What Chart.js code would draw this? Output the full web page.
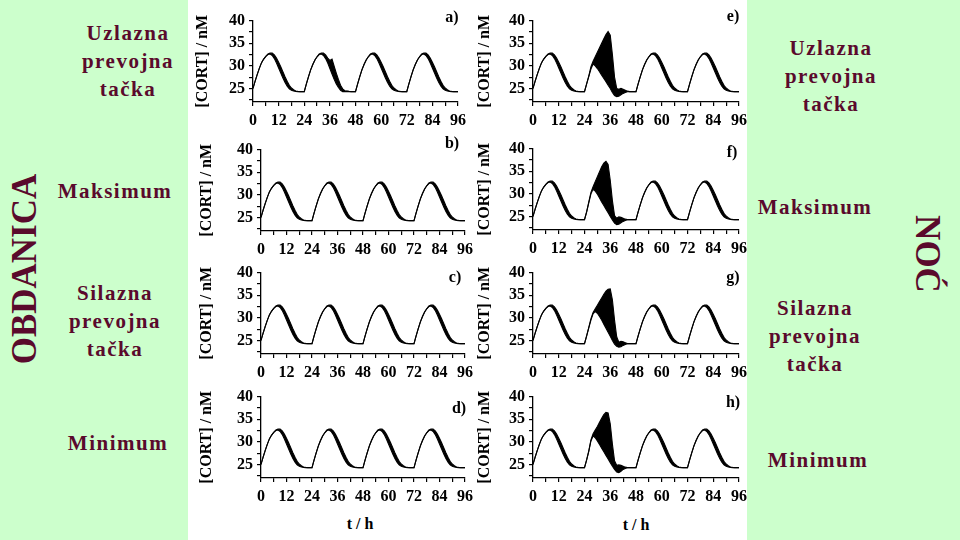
<!DOCTYPE html>
<html>
<head>
<meta charset="utf-8">
<script src="https://cdn.jsdelivr.net/npm/chart.js@4.4.1/dist/chart.umd.min.js"></script>
<style>
html, body { margin: 0; padding: 0; }
body {
    width: 960px; height: 540px; position: relative; overflow: hidden;
    background: #ccffcc;
    font-family: "Liberation Serif", "Times New Roman", serif;
}
#sheet { position: absolute; left: 188px; top: 0; width: 559px; height: 540px; background: #fff; }
canvas { position: absolute; }
.lbl {
    position: absolute; transform: translate(-50%, -50%);
    color: #5a0a2c; font-weight: bold; font-size: 21px; letter-spacing: 1.5px;
    line-height: 28px; text-align: center; white-space: nowrap;
}
.side {
    position: absolute; color: #5a0a2c; font-weight: bold; font-size: 35px;
    line-height: 40px; white-space: nowrap;
}
.tag {
    position: absolute; transform: translate(-50%, -50%);
    font-weight: bold; font-size: 16px; color: #000; white-space: nowrap;
}
</style>
</head>
<body>
<div id="sheet"></div>

<div class="lbl" style="left:128px;top:61px">Uzlazna<br>prevojna<br>tačka</div>
<div class="lbl" style="left:115px;top:191px">Maksimum</div>
<div class="lbl" style="left:115px;top:321px">Silazna<br>prevojna<br>tačka</div>
<div class="lbl" style="left:118px;top:443px">Minimum</div>

<div class="lbl" style="left:831px;top:76px">Uzlazna<br>prevojna<br>tačka</div>
<div class="lbl" style="left:815px;top:207px">Maksimum</div>
<div class="lbl" style="left:815px;top:336px">Silazna<br>prevojna<br>tačka</div>
<div class="lbl" style="left:818px;top:460px">Minimum</div>

<div class="side" style="left:25px;top:269px;transform:translate(-50%,-50%) rotate(-90deg)">OBDANICA</div>
<div class="side" style="left:927px;top:254px;transform:translate(-50%,-50%) rotate(90deg)">NOĆ</div>

<div class="tag" style="left:360px;top:524px">t / h</div>
<div class="tag" style="left:636px;top:525px">t / h</div>

<script>
"use strict";

// time grid (h)
const hours = [
    0, 1, 2, 3, 4, 5, 6, 7, 8, 9, 10, 11, 12, 13, 14, 15, 16, 17, 18, 19, 20, 21, 22, 23,
    24, 25, 26, 27, 28, 29, 30, 31, 32, 33, 34, 35, 36, 37, 38, 39, 40, 41, 42, 43, 44, 45, 46, 47,
    48, 49, 50, 51, 52, 53, 54, 55, 56, 57, 58, 59, 60, 61, 62, 63, 64, 65, 66, 67, 68, 69, 70, 71,
    72, 73, 74, 75, 76, 77, 78, 79, 80, 81, 82, 83, 84, 85, 86, 87, 88, 89, 90, 91, 92, 93, 94, 95,
    96
];

// undisturbed [CORT] band: lower / upper edge of the trace (nM)
const cortLow = [
    25.0, 26.6, 28.1, 29.5, 30.7, 31.5, 32.1, 32.5, 32.6, 32.3, 31.6, 30.6, 29.5, 28.4, 27.3, 26.3, 25.5, 24.9, 24.6, 24.45, 24.35, 24.3, 24.3, 24.3,
    24.3, 26.0, 27.6, 29.1, 30.3, 31.3, 32.0, 32.5, 32.6, 32.3, 31.6, 30.6, 29.5, 28.4, 27.3, 26.3, 25.5, 24.9, 24.6, 24.45, 24.35, 24.3, 24.3, 24.3,
    24.3, 26.0, 27.6, 29.1, 30.3, 31.3, 32.0, 32.5, 32.6, 32.3, 31.6, 30.6, 29.5, 28.4, 27.3, 26.3, 25.5, 24.9, 24.6, 24.45, 24.35, 24.3, 24.3, 24.3,
    24.3, 26.0, 27.6, 29.1, 30.3, 31.3, 32.0, 32.5, 32.6, 32.3, 31.6, 30.6, 29.5, 28.4, 27.3, 26.3, 25.5, 24.9, 24.6, 24.45, 24.35, 24.3, 24.3, 24.3,
    24.3
];
const cortHigh = [
    25.0, 26.6, 28.1, 29.5, 30.7, 31.5, 32.1, 32.6, 32.8, 32.8, 32.4, 31.7, 30.8, 29.8, 28.7, 27.6, 26.6, 25.7, 25.1, 24.7, 24.45, 24.35, 24.3, 24.3,
    24.3, 26.0, 27.6, 29.1, 30.3, 31.3, 32.0, 32.6, 32.8, 32.8, 32.4, 31.7, 30.8, 29.8, 28.7, 27.6, 26.6, 25.7, 25.1, 24.7, 24.45, 24.35, 24.3, 24.3,
    24.3, 26.0, 27.6, 29.1, 30.3, 31.3, 32.0, 32.6, 32.8, 32.8, 32.4, 31.7, 30.8, 29.8, 28.7, 27.6, 26.6, 25.7, 25.1, 24.7, 24.45, 24.35, 24.3, 24.3,
    24.3, 26.0, 27.6, 29.1, 30.3, 31.3, 32.0, 32.6, 32.8, 32.8, 32.4, 31.7, 30.8, 29.8, 28.7, 27.6, 26.6, 25.7, 25.1, 24.7, 24.45, 24.35, 24.3, 24.3,
    24.3
];

// panel a: small ragged patch on the second decline
const aHours = [36, 37, 38, 39, 40, 41, 42, 43];
const aLow   = [29.4, 28.2, 27.0, 26.0, 25.2, 24.6, 24.3, 24.3];
const aHigh  = [31.2, 31.5, 29.9, 28.4, 27.0, 25.7, 24.9, 24.5];

// panels e-h: disturbed second cycle
const burstHours = [24, 25, 26, 27, 28, 29, 30, 31, 32, 33, 34, 35, 36, 37, 38, 39, 40, 41, 42, 43, 44, 45, 46, 47, 48];
const eLow  = [24.3, 26.0, 27.6, 29.3, 30.4, 30.0, 29.4, 28.7, 27.9, 27.2, 26.5, 25.7, 25.0, 24.1, 23.4, 23.2, 23.3, 23.6, 23.9, 24.1, 24.25, 24.3, 24.3, 24.3, 24.3];
const eHigh = [24.3, 26.0, 27.8, 29.8, 31.0, 32.0, 33.0, 34.0, 35.0, 36.0, 36.9, 37.6, 36.8, 32.5, 27.5, 25.0, 24.8, 25.0, 24.8, 24.6, 24.4, 24.3, 24.3, 24.3, 24.3];
const fLow  = [24.3, 26.0, 28.0, 30.0, 31.0, 30.6, 29.9, 29.1, 28.2, 27.4, 26.6, 25.8, 25.0, 24.2, 23.5, 23.2, 23.3, 23.6, 23.9, 24.1, 24.25, 24.3, 24.3, 24.3, 24.3];
const fHigh = [24.3, 26.0, 28.2, 30.3, 31.6, 32.7, 33.8, 34.9, 36.0, 36.8, 37.2, 36.5, 33.0, 28.5, 25.2, 24.6, 24.9, 24.8, 24.6, 24.4, 24.3, 24.3, 24.3, 24.3, 24.3];
const gLow  = [24.3, 26.0, 27.8, 29.5, 30.9, 31.4, 31.0, 30.3, 29.5, 28.6, 27.7, 26.8, 25.9, 25.0, 24.2, 23.7, 23.5, 23.6, 23.9, 24.1, 24.25, 24.3, 24.3, 24.3, 24.3];
const gHigh = [24.3, 26.0, 27.9, 29.8, 31.2, 32.0, 32.8, 33.6, 34.4, 35.2, 35.9, 36.3, 36.4, 34.0, 29.5, 25.8, 24.6, 24.8, 24.7, 24.5, 24.3, 24.3, 24.3, 24.3, 24.3];
const hLow  = [24.3, 26.0, 27.9, 30.2, 31.3, 30.9, 30.2, 29.4, 28.6, 27.8, 27.0, 26.2, 25.4, 24.6, 23.9, 23.3, 23.2, 23.5, 23.9, 24.1, 24.25, 24.3, 24.3, 24.3, 24.3];
const hHigh = [24.3, 26.0, 28.0, 30.4, 31.8, 32.6, 33.4, 34.3, 35.2, 36.0, 36.5, 36.4, 34.0, 29.5, 25.8, 24.8, 24.9, 24.8, 24.6, 24.4, 24.3, 24.3, 24.3, 24.3, 24.3];

const yTicks = [22.5, 25, 27.5, 30, 32.5, 35, 37.5, 40];

function patch(base, winHours, winVals) {
    const out = base.slice();
    winHours.forEach((h, i) => { out[hours.indexOf(h)] = winVals[i]; });
    return out;
}
function points(vals) {
    return hours.map((h, i) => ({ x: h, y: vals[i] }));
}

// layout of the eight panels on the page
const PAD_TOP = 12, PAD_RIGHT = 14, X_AXIS_H = 30, PLOT_H = 83;
const panels = [
    { tag: 'a)', tagAt: [452, 17],  x0: 253, x1: 458, top: 18.5,  titleX: 203, low: patch(cortLow, aHours, aLow), high: patch(cortHigh, aHours, aHigh) },
    { tag: 'b)', tagAt: [452, 143], x0: 261, x1: 465, top: 147.5, titleX: 207, low: cortLow, high: cortHigh },
    { tag: 'c)', tagAt: [455, 277], x0: 261, x1: 465, top: 270.5, titleX: 207, low: cortLow, high: cortHigh },
    { tag: 'd)', tagAt: [459, 408], x0: 261, x1: 465, top: 395,   titleX: 207, low: cortLow, high: cortHigh },
    { tag: 'e)', tagAt: [733, 16],  x0: 533, x1: 739, top: 18.5,  titleX: 485, low: patch(cortLow, burstHours, eLow), high: patch(cortHigh, burstHours, eHigh) },
    { tag: 'f)', tagAt: [732, 152], x0: 533, x1: 739, top: 147,   titleX: 485, low: patch(cortLow, burstHours, fLow), high: patch(cortHigh, burstHours, fHigh) },
    { tag: 'g)', tagAt: [733, 277], x0: 533, x1: 739, top: 270.5, titleX: 485, low: patch(cortLow, burstHours, gLow), high: patch(cortHigh, burstHours, gHigh) },
    { tag: 'h)', tagAt: [733, 402], x0: 533, x1: 739, top: 395,   titleX: 485, low: patch(cortLow, burstHours, hLow), high: patch(cortHigh, burstHours, hHigh) },
];

const axisFont = { family: "'Liberation Serif', 'Times New Roman', serif", size: 16, weight: 'bold' };

panels.forEach(p => {
    const left = Math.round(p.titleX - 10);
    const top = Math.round(p.top - PAD_TOP);
    const yWidth = p.x0 - left;
    const cv = document.createElement('canvas');
    cv.width = p.x1 - left + PAD_RIGHT;
    cv.height = PAD_TOP + PLOT_H + X_AXIS_H;
    cv.style.left = left + 'px';
    cv.style.top = top + 'px';
    document.body.appendChild(cv);

    const tag = document.createElement('div');
    tag.className = 'tag';
    tag.style.left = p.tagAt[0] + 'px';
    tag.style.top = p.tagAt[1] + 'px';
    tag.textContent = p.tag;
    document.body.appendChild(tag);

    new Chart(cv, {
        type: 'line',
        data: {
            datasets: [
                {
                    data: points(p.high),
                    borderColor: '#000',
                    backgroundColor: '#000',
                    borderWidth: 1.1,
                    pointRadius: 0,
                    tension: 0,
                    fill: '+1'
                },
                {
                    data: points(p.low),
                    borderColor: '#000',
                    borderWidth: 1.1,
                    pointRadius: 0,
                    tension: 0,
                    fill: false
                }
            ]
        },
        options: {
            responsive: false,
            animation: false,
            devicePixelRatio: 1,
            layout: { padding: { top: PAD_TOP, right: PAD_RIGHT, left: 0, bottom: 0 } },
            plugins: { legend: { display: false }, tooltip: { enabled: false } },
            scales: {
                x: {
                    type: 'linear',
                    min: 0,
                    max: 96,
                    ticks: {
                        stepSize: 6,
                        autoSkip: false,
                        maxRotation: 0,
                        padding: 5,
                        color: '#000',
                        font: axisFont,
                        callback: v => (v % 12 === 0 ? v : '')
                    },
                    grid: { drawOnChartArea: false, drawTicks: true, tickLength: 4, color: '#000', lineWidth: 1.2 },
                    border: { display: true, color: '#000', width: 1.3 },
                    afterFit: s => { s.height = X_AXIS_H; }
                },
                y: {
                    min: 22,
                    max: 40,
                    afterBuildTicks: s => { s.ticks = yTicks.map(v => ({ value: v })); },
                    ticks: {
                        autoSkip: false,
                        padding: 4,
                        color: '#000',
                        font: axisFont,
                        callback: v => (v % 5 === 0 ? v : '')
                    },
                    grid: { drawOnChartArea: false, drawTicks: true, tickLength: 4, color: '#000', lineWidth: 1.2 },
                    border: { display: true, color: '#000', width: 1.3 },
                    title: { display: true, text: '[CORT] / nM', color: '#000', font: axisFont, padding: 0 },
                    afterFit: s => { s.width = yWidth; }
                }
            }
        }
    });
});
</script>
</body>
</html>
